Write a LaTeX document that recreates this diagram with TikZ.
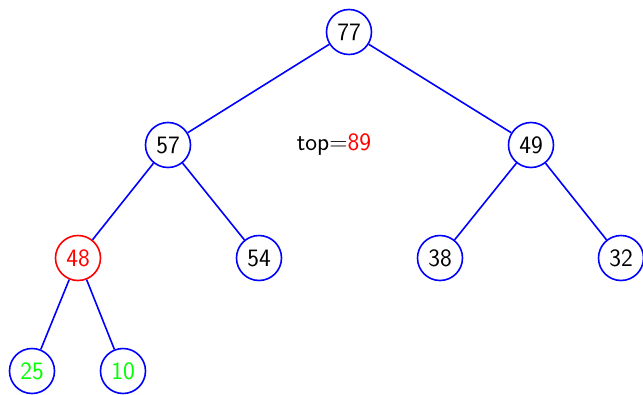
\documentclass[tikz,border=0pt]{standalone}
\usepackage{fontspec}
\begin{document}
\begin{tikzpicture}[x=1pt,y=-1pt,
  every node/.style={font=\sffamily\fontsize{25}{28}\selectfont},
  hnode/.style={circle,draw=blue,line width=1.6pt,minimum size=45pt,inner sep=0pt},
  edge/.style={blue,line width=1.6pt}]
\useasboundingbox (0,0) rectangle (643,394);
\definecolor{brightgreen}{RGB}{0,255,0}
\node[hnode] (n77) at (349,32) {77};
\node[hnode] (n57) at (168,145) {57};
\node[hnode] (n49) at (531,145) {49};
\node[hnode,draw=red,text=red] (n48) at (78,258) {48};
\node[hnode] (n54) at (259,258) {54};
\node[hnode] (n38) at (440,258) {38};
\node[hnode] (n32) at (621,258) {32};
\node[hnode,text=brightgreen] (n25) at (32,371) {25};
\node[hnode,text=brightgreen] (n10) at (123,371) {10};
\node (top) at (334,145) {top=\textcolor{red}{89}};
\draw[edge] (n77) -- (n57);
\draw[edge] (n77) -- (n49);
\draw[edge] (n57) -- (n48);
\draw[edge] (n57) -- (n54);
\draw[edge] (n49) -- (n38);
\draw[edge] (n49) -- (n32);
\draw[edge] (n48) -- (n25);
\draw[edge] (n48) -- (n10);
\end{tikzpicture}
\end{document}
